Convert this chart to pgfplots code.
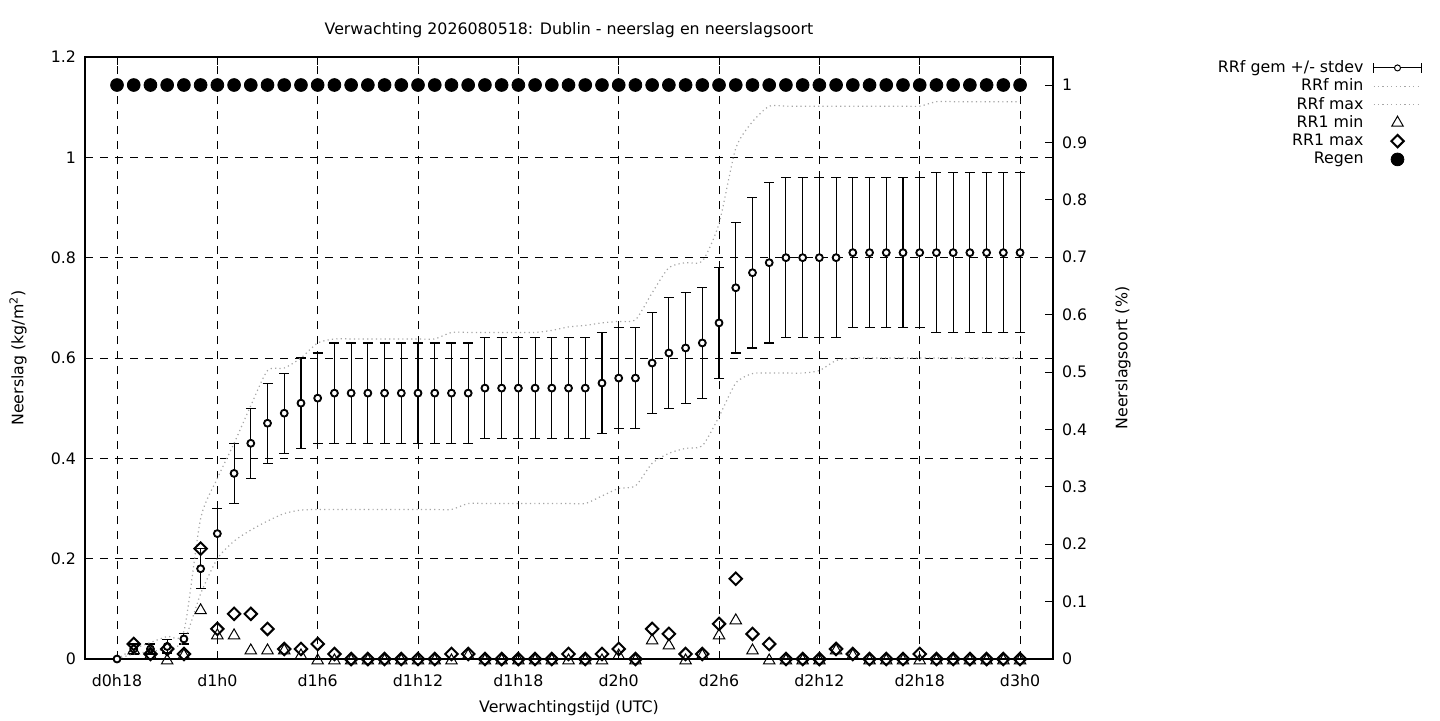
\documentclass[border=0pt]{standalone}
\usepackage{fontspec}
\setmainfont{DejaVu Sans}
\usepackage{pgfplots}
\usepackage{pgfplotstable}
\pgfplotsset{compat=1.18}

% RRf: gemiddelde, stdev, min, max per uur (x = uren na d0h18)
\pgfplotstableread{
x mean sd lo hi
0 0 0 0 0
1 0.02 0.01 0.01 0.02
2 0.02 0.01 0.015 0.033
3 0.025 0.013 0.02 0.045
4 0.04 0.01 0.035 0.055
5 0.18 0.04 0.13 0.28
6 0.25 0.05 0.20 0.36
7 0.37 0.06 0.235 0.43
8 0.43 0.07 0.257 0.505
9 0.47 0.08 0.275 0.575
10 0.49 0.08 0.29 0.58
11 0.51 0.09 0.297 0.60
12 0.52 0.09 0.298 0.63
13 0.53 0.10 0.298 0.638
14 0.53 0.10 0.298 0.638
15 0.53 0.10 0.298 0.638
16 0.53 0.10 0.298 0.638
17 0.53 0.10 0.298 0.638
18 0.53 0.10 0.298 0.638
19 0.53 0.10 0.298 0.638
20 0.53 0.10 0.298 0.651
21 0.53 0.10 0.31 0.651
22 0.54 0.10 0.31 0.651
23 0.54 0.10 0.31 0.651
24 0.54 0.10 0.31 0.651
25 0.54 0.10 0.31 0.651
26 0.54 0.10 0.31 0.655
27 0.54 0.10 0.31 0.662
28 0.54 0.10 0.31 0.665
29 0.55 0.10 0.325 0.67
30 0.56 0.10 0.34 0.673
31 0.56 0.10 0.345 0.676
32 0.59 0.10 0.39 0.73
33 0.61 0.11 0.41 0.78
34 0.62 0.11 0.42 0.79
35 0.63 0.11 0.425 0.793
36 0.67 0.11 0.483 0.868
37 0.74 0.13 0.55 1.018
38 0.77 0.15 0.569 1.071
39 0.79 0.16 0.57 1.102
40 0.80 0.16 0.57 1.102
41 0.80 0.16 0.57 1.102
42 0.80 0.16 0.575 1.102
43 0.80 0.16 0.595 1.102
44 0.81 0.15 0.60 1.102
45 0.81 0.15 0.60 1.102
46 0.81 0.15 0.60 1.102
47 0.81 0.15 0.60 1.102
48 0.81 0.15 0.60 1.102
49 0.81 0.16 0.60 1.111
50 0.81 0.16 0.60 1.111
51 0.81 0.16 0.60 1.111
52 0.81 0.16 0.60 1.111
53 0.81 0.16 0.60 1.111
54 0.81 0.16 0.60 1.111
}\rrf

% RR1 min / max per uur
\pgfplotstableread{
x rmin rmax
1 0.02 0.03
2 0.01 0.01
3 0 0.02
4 0.01 0.01
5 0.10 0.22
6 0.05 0.06
7 0.05 0.09
8 0.02 0.09
9 0.02 0.06
10 0.02 0.02
11 0.01 0.02
12 0 0.03
13 0 0.01
14 0 0
15 0 0
16 0 0
17 0 0
18 0 0
19 0 0
20 0 0.01
21 0.01 0.01
22 0 0
23 0 0
24 0 0
25 0 0
26 0 0
27 0 0.01
28 0 0
29 0 0.01
30 0.01 0.02
31 0 0
32 0.04 0.06
33 0.03 0.05
34 0 0.01
35 0.01 0.01
36 0.05 0.07
37 0.08 0.16
38 0.02 0.05
39 0 0.03
40 0 0
41 0 0
42 0 0
43 0.02 0.02
44 0.01 0.01
45 0 0
46 0 0
47 0 0
48 0 0.01
49 0 0
50 0 0
51 0 0
52 0 0
53 0 0
54 0 0
}\rrone

\pgfplotsset{
  base/.style={
    scale only axis, width=484pt, height=301pt,
    at={(0,0)}, anchor=south west,
    xmin=-1.914, xmax=55.97,
    axis line style={line width=0.6pt},
    tick align=inside, major tick length=4pt,
    tick style={line width=0.5pt, black},
    /pgf/number format/assume math mode=true,
  },
  rrfdot/.style={black!35, line width=0.6pt, dash pattern=on 0.6pt off 1.6pt},
  diam/.style={only marks, mark=square, mark size=2.2pt,
    mark options={rotate=45, line width=1pt, black}},
  tri/.style={only marks, mark=triangle, mark size=3.3pt,
    mark options={line width=0.5pt, black, yshift=-0.8pt}},
  legend image code/.code={
    \path[use as bounding box, draw=none, fill=none] (0pt,-2.5pt) rectangle (24pt,2.5pt);
    \draw[mark repeat=2,mark phase=2,#1] plot coordinates {(0pt,0pt) (12pt,0pt) (24pt,0pt)};
  },
}

\begin{document}
\begin{tikzpicture}[font=\fontsize{7.9}{9.5}\selectfont]
\path[use as bounding box] (-42.5pt,-30.5pt) rectangle (677.5pt,329.5pt);

\begin{axis}[
  base,
  ymin=0, ymax=1.2,
  ytick={0,0.2,...,1.2},
  xtick={0,6,...,54},
  xticklabels={d0h18,d1h0,d1h6,d1h12,d1h18,d2h0,d2h6,d2h12,d2h18,d3h0},
  xtick pos=both, ytick pos=left,
  xticklabel style={yshift=-4pt},
  yticklabel style={/pgf/number format/fixed, xshift=-1pt},
  grid=major,
  major grid style={black, line width=0.45pt, dash pattern=on 4pt off 3.5pt},
  title={Verwachting 2026080518: Dublin - neerslag en neerslagsoort},
  title style={at={(axis description cs:0.5,1.025)}, anchor=center},
  xlabel={Verwachtingstijd (UTC)},
  xlabel style={at={(axis description cs:0.5,-0.081)}, anchor=center},
  ylabel={Neerslag (kg/m\textsuperscript{2})},
  ylabel style={at={(axis description cs:-0.0692,0.5)}, anchor=center, rotate=0},
]
% eerst de foutbalken, dan de cirkels erbovenop
\addplot[forget plot, only marks, mark=none,
  error bars/.cd, y dir=both, y explicit,
  error bar style={line width=0.55pt, black},
  error mark options={rotate=90, mark size=2.5pt, line width=0.55pt, black}]
  table[x=x, y=mean, y error=sd]{\rrf};
\addplot[only marks, mark=*, mark size=1.5pt,
  mark options={fill=white, draw=black, line width=0.5pt}]
  table[x=x, y=mean]{\rrf};
\addplot[rrfdot, smooth, tension=0.4] table[x=x, y=lo]{\rrf};
\addplot[rrfdot, smooth, tension=0.4] table[x=x, y=hi]{\rrf};
\addplot[tri] table[x=x, y=rmin]{\rrone};
\addplot[diam] table[x=x, y=rmax]{\rrone};
\end{axis}

\begin{axis}[
  base,
  ymin=0, ymax=1.0488,
  axis x line=none,
  axis y line*=right,
  ytick={0,0.1,...,1},
  yticklabel style={/pgf/number format/fixed, xshift=1pt},
  ylabel={Neerslagsoort (\%)},
  ylabel style={at={(axis description cs:1.0723,0.5)}, anchor=center, rotate=0},
  legend style={at={(axis description cs:1.3873,1.0066)}, anchor=north east,
    draw=none, fill=none, row sep=-1.35pt, column sep=3.5pt,
    nodes={inner sep=1.5pt, text height=6pt, text depth=1.5pt}},
  legend cell align=right,
  legend plot pos=right,
]
\addlegendimage{legend image code/.code={
    \path[use as bounding box, draw=none, fill=none] (0pt,-2.5pt) rectangle (24pt,2.5pt);
    \draw[line width=0.55pt] (0pt,0pt) -- (24pt,0pt);
    \draw[line width=0.55pt] (0pt,-2.5pt) -- (0pt,2.5pt);
    \draw[line width=0.55pt] (24pt,-2.5pt) -- (24pt,2.5pt);
    \draw[line width=0.5pt, fill=white] (12pt,0pt) circle (1.5pt);
  }}
\addlegendentry{RRf gem +/- stdev}
\addlegendimage{rrfdot}
\addlegendentry{RRf min}
\addlegendimage{rrfdot}
\addlegendentry{RRf max}
\addlegendimage{only marks, mark=triangle, mark size=3.3pt, mark options={line width=0.5pt, black}}
\addlegendentry{RR1 min}
\addlegendimage{only marks, mark=square, mark size=2.2pt, mark options={rotate=45, line width=1pt, black}}
\addlegendentry{RR1 max}
\addplot[only marks, mark=*, mark size=3.2pt, black] coordinates {
  (0,1) (1,1) (2,1) (3,1) (4,1) (5,1) (6,1) (7,1) (8,1) (9,1)
  (10,1) (11,1) (12,1) (13,1) (14,1) (15,1) (16,1) (17,1) (18,1) (19,1)
  (20,1) (21,1) (22,1) (23,1) (24,1) (25,1) (26,1) (27,1) (28,1) (29,1)
  (30,1) (31,1) (32,1) (33,1) (34,1) (35,1) (36,1) (37,1) (38,1) (39,1)
  (40,1) (41,1) (42,1) (43,1) (44,1) (45,1) (46,1) (47,1) (48,1) (49,1)
  (50,1) (51,1) (52,1) (53,1) (54,1)
};
\addlegendentry{Regen}
\end{axis}
\end{tikzpicture}
\end{document}
